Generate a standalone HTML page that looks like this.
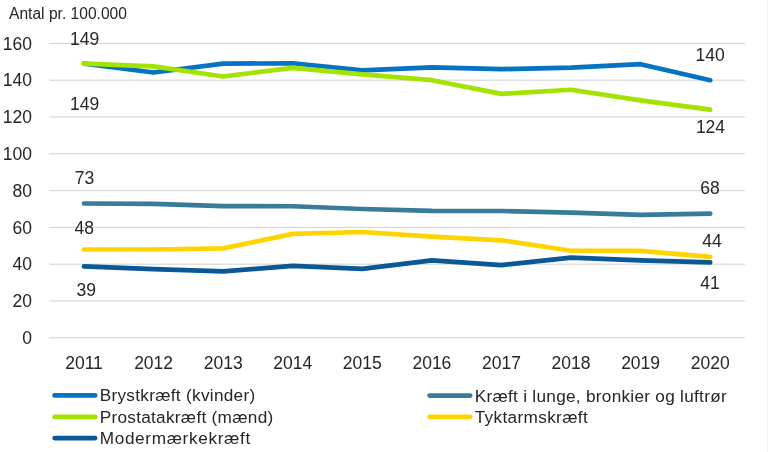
<!DOCTYPE html><html><head><meta charset="utf-8"><style>html,body{margin:0;padding:0;background:#fff;}svg{display:block;filter:blur(0.35px);}text{font-family:"Liberation Sans",sans-serif;fill:#262626;}</style></head><body>
<svg width="768" height="452" viewBox="0 0 768 452">
<rect x="0" y="0" width="768" height="452" fill="#fff"/>
<rect x="767" y="0" width="1" height="452" fill="#f0f0f0"/>
<rect x="49.2" y="337.25" width="695.8" height="1.1" fill="#d6d6d6"/>
<rect x="49.2" y="300.45" width="695.8" height="1.1" fill="#d6d6d6"/>
<rect x="49.2" y="263.65" width="695.8" height="1.1" fill="#d6d6d6"/>
<rect x="49.2" y="226.85" width="695.8" height="1.1" fill="#d6d6d6"/>
<rect x="49.2" y="190.05" width="695.8" height="1.1" fill="#d6d6d6"/>
<rect x="49.2" y="153.25" width="695.8" height="1.1" fill="#d6d6d6"/>
<rect x="49.2" y="116.45" width="695.8" height="1.1" fill="#d6d6d6"/>
<rect x="49.2" y="79.65" width="695.8" height="1.1" fill="#d6d6d6"/>
<rect x="49.2" y="42.85" width="695.8" height="1.1" fill="#d6d6d6"/>
<text x="32" y="344.0" font-size="17.5" text-anchor="end">0</text>
<text x="32" y="307.2" font-size="17.5" text-anchor="end">20</text>
<text x="32" y="270.4" font-size="17.5" text-anchor="end">40</text>
<text x="32" y="233.6" font-size="17.5" text-anchor="end">60</text>
<text x="32" y="196.8" font-size="17.5" text-anchor="end">80</text>
<text x="32" y="160.0" font-size="17.5" text-anchor="end">100</text>
<text x="32" y="123.2" font-size="17.5" text-anchor="end">120</text>
<text x="32" y="86.4" font-size="17.5" text-anchor="end">140</text>
<text x="32" y="49.6" font-size="17.5" text-anchor="end">160</text>
<text x="84.0" y="368.6" font-size="17.5" text-anchor="middle">2011</text>
<text x="153.6" y="368.6" font-size="17.5" text-anchor="middle">2012</text>
<text x="223.2" y="368.6" font-size="17.5" text-anchor="middle">2013</text>
<text x="292.7" y="368.6" font-size="17.5" text-anchor="middle">2014</text>
<text x="362.3" y="368.6" font-size="17.5" text-anchor="middle">2015</text>
<text x="431.9" y="368.6" font-size="17.5" text-anchor="middle">2016</text>
<text x="501.5" y="368.6" font-size="17.5" text-anchor="middle">2017</text>
<text x="571.0" y="368.6" font-size="17.5" text-anchor="middle">2018</text>
<text x="640.6" y="368.6" font-size="17.5" text-anchor="middle">2019</text>
<text x="710.2" y="368.6" font-size="17.5" text-anchor="middle">2020</text>
<text x="9" y="19" font-size="15.6">Antal pr. 100.000</text>
<polyline points="83.99,63.64 153.57,72.47 223.15,63.64 292.73,63.27 362.31,70.45 431.89,67.32 501.47,69.16 571.05,67.69 640.63,64.19 710.21,80.20" fill="none" stroke="#0573C4" stroke-width="4.7" stroke-linejoin="round" stroke-linecap="round"/>
<polyline points="83.99,203.48 153.57,203.85 223.15,206.06 292.73,206.24 362.31,209.00 431.89,210.84 501.47,211.02 571.05,212.68 640.63,214.89 710.21,213.60" fill="none" stroke="#387C9A" stroke-width="4.7" stroke-linejoin="round" stroke-linecap="round"/>
<polyline points="83.99,63.64 153.57,66.40 223.15,76.52 292.73,67.87 362.31,74.31 431.89,80.20 501.47,93.82 571.05,89.77 640.63,100.44 710.21,109.64" fill="none" stroke="#A3E300" stroke-width="4.7" stroke-linejoin="round" stroke-linecap="round"/>
<polyline points="83.99,249.48 153.57,249.48 223.15,248.38 292.73,233.84 362.31,232.00 431.89,236.60 501.47,240.28 571.05,250.77 640.63,250.95 710.21,256.84" fill="none" stroke="#FFD300" stroke-width="4.7" stroke-linejoin="round" stroke-linecap="round"/>
<polyline points="83.99,266.41 153.57,269.17 223.15,271.38 292.73,265.86 362.31,268.80 431.89,260.34 501.47,265.12 571.05,257.58 640.63,260.34 710.21,262.36" fill="none" stroke="#0A5896" stroke-width="4.7" stroke-linejoin="round" stroke-linecap="round"/>
<text x="84.6" y="44.5" font-size="17.5" text-anchor="middle">149</text>
<text x="84.7" y="109.9" font-size="17.5" text-anchor="middle">149</text>
<text x="710.2" y="61.1" font-size="17.5" text-anchor="middle">140</text>
<text x="710.5" y="133.0" font-size="17.5" text-anchor="middle">124</text>
<text x="84.5" y="183.8" font-size="17.5" text-anchor="middle">73</text>
<text x="84.2" y="234.4" font-size="17.5" text-anchor="middle">48</text>
<text x="86.3" y="295.9" font-size="17.5" text-anchor="middle">39</text>
<text x="710.0" y="194.1" font-size="17.5" text-anchor="middle">68</text>
<text x="712.0" y="246.6" font-size="17.5" text-anchor="middle">44</text>
<text x="710.0" y="288.8" font-size="17.5" text-anchor="middle">41</text>
<line x1="54.6" y1="395.4" x2="95.1" y2="395.4" stroke="#0573C4" stroke-width="4.8" stroke-linecap="round"/>
<text x="99.7" y="401.4" font-size="17.2" textLength="155.5" lengthAdjust="spacing">Brystkræft (kvinder)</text>
<line x1="54.6" y1="416.9" x2="95.1" y2="416.9" stroke="#A3E300" stroke-width="4.8" stroke-linecap="round"/>
<text x="99.7" y="422.9" font-size="17.2" textLength="173.5" lengthAdjust="spacing">Prostatakræft (mænd)</text>
<line x1="54.6" y1="438.1" x2="95.1" y2="438.1" stroke="#0A5896" stroke-width="4.8" stroke-linecap="round"/>
<text x="99.7" y="444.1" font-size="17.2" textLength="150.5" lengthAdjust="spacing">Modermærkekræft</text>
<line x1="429.6" y1="395.6" x2="470.1" y2="395.6" stroke="#387C9A" stroke-width="4.8" stroke-linecap="round"/>
<text x="474.7" y="401.6" font-size="17.2" textLength="252.0" lengthAdjust="spacing">Kræft i lunge, bronkier og luftrør</text>
<line x1="429.6" y1="416.8" x2="470.1" y2="416.8" stroke="#FFD300" stroke-width="4.8" stroke-linecap="round"/>
<text x="474.7" y="422.8" font-size="17.2" textLength="113.0" lengthAdjust="spacing">Tyktarmskræft</text>
</svg></body></html>
